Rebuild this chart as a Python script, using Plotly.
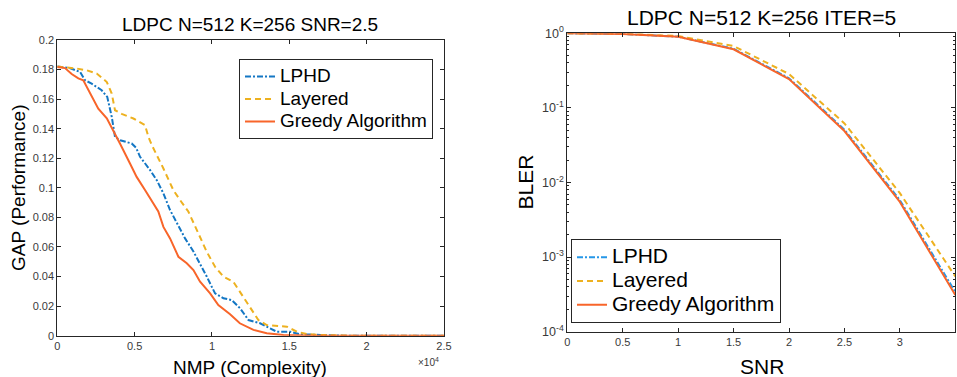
import plotly.graph_objects as go

# ---------------- data: left panel (GAP vs NMP) ----------------
lphd_nmp = [0, 800, 1470, 1790, 2220, 2870, 3230, 3520, 3730, 4060, 4810, 5100, 5350, 6000, 6430, 6860,
            7290, 7720, 8260, 8800, 9230, 9660, 10200, 10740, 11280, 11820, 12360, 13110, 13540, 14190,
            15050, 15700, 17000, 18500, 25000]
lphd_gap = [0.182, 0.181, 0.1784, 0.1728, 0.1705, 0.166, 0.1615, 0.148, 0.1345, 0.1322, 0.130, 0.127, 0.121,
            0.112, 0.1052, 0.0962, 0.085, 0.076, 0.0658, 0.057, 0.049, 0.040, 0.0286, 0.0253, 0.0241, 0.0185,
            0.0106, 0.0084, 0.0061, 0.0027, 0.0027, 0.001, 0.0005, 0.0, 0.0]

layered_nmp = [0, 1250, 1900, 2550, 3200, 3520, 3730, 4160, 4920, 5670, 5890, 6110, 6860, 7500, 7940, 8470,
               9120, 9660, 10200, 10740, 11380, 12030, 13000, 13540, 14840, 15490, 16130, 17000, 18600,
               19000, 25000]
layered_gap = [0.182, 0.1807, 0.1795, 0.1773, 0.1716, 0.1638, 0.1525, 0.150, 0.1469, 0.1424, 0.1345, 0.1289,
               0.1131, 0.0985, 0.0917, 0.084, 0.0692, 0.0568, 0.0466, 0.040, 0.0365, 0.0264, 0.0106, 0.0072,
               0.0061, 0.0027, 0.0011, 0.0005, 0.0003, 0.0, 0.0]

greedy_nmp = [0, 500, 930, 1360, 1680, 2115, 2650, 3200, 3840, 4050, 4700, 5130, 5670, 6210, 6530, 6860,
              7290, 7830, 8370, 8800, 9230, 9880, 10410, 11170, 11800, 12680, 13540, 14620, 16800, 25000]
greedy_gap = [0.1818, 0.181, 0.177, 0.174, 0.1727, 0.1638, 0.1536, 0.147, 0.1345, 0.130, 0.1165, 0.1074,
              0.0985, 0.0895, 0.084, 0.0736, 0.0658, 0.0534, 0.049, 0.0444, 0.0365, 0.0286, 0.0207, 0.0145,
              0.0084, 0.0039, 0.0016, 0.0005, 0.0, 0.0]

nmp_tickvals = [0, 5000, 10000, 15000, 20000, 25000]
nmp_ticktext = ["0", "0.5", "1", "1.5", "2", "2.5"]
gap_tickvals = [0, 0.02, 0.04, 0.06, 0.08, 0.1, 0.12, 0.14, 0.16, 0.18, 0.2]
gap_ticktext = ["0", "0.02", "0.04", "0.06", "0.08", "0.1", "0.12", "0.14", "0.16", "0.18", "0.2"]

# ---------------- data: right panel (BLER vs SNR) ----------------
snr = [0, 0.5, 1, 1.5, 2, 2.5, 3, 3.5]
bler_lphd = [1.0, 0.98, 0.90, 0.62, 0.25, 0.051, 0.0058, 0.00034]
bler_layered = [1.0, 0.985, 0.92, 0.675, 0.285, 0.062, 0.0072, 0.00055]
bler_greedy = [1.0, 0.98, 0.90, 0.61, 0.244, 0.049, 0.0055, 0.00031]

snr_tickvals = [0, 0.5, 1, 1.5, 2, 2.5, 3, 3.5]
snr_ticktext = ["0", "0.5", "1", "1.5", "2", "2.5", "3", "3.5"]
bler_tickvals = [1e-4, 1e-3, 1e-2, 1e-1, 1]
bler_ticktext = ["10<sup>-4</sup>", "10<sup>-3</sup>", "10<sup>-2</sup>", "10<sup>-1</sup>", "10<sup>0</sup>"]
bler_minor = [m * 10.0 ** e for e in (-4, -3, -2, -1) for m in range(2, 10)]

series_names = ["LPHD", "Layered", "Greedy Algorithm"]

# ---------------- styling ----------------
W, H = 957, 377
FONT = "Liberation Sans, Arial, Helvetica, sans-serif"
BLUE_L = "#1477C4"
BLUE_R = "#2597E8"
YELLOW = "#EDB120"
ORANGE = "#F8652A"
AX = "#262626"
TICKC = "#3a3a3a"


def px(x):
    return x / W


def py(y):
    return 1 - y / H


def lname(name, size):
    return '<span style="font-size:%dpx">%s</span>' % (size, name)


fig = go.Figure()

fig.add_trace(go.Scatter(x=lphd_nmp, y=lphd_gap, mode="lines", name=lname(series_names[0], 19),
                         line=dict(color=BLUE_L, width=2, dash="6px,2px,2px,2px"),
                         xaxis="x", yaxis="y", legend="legend"))
fig.add_trace(go.Scatter(x=layered_nmp, y=layered_gap, mode="lines", name=lname(series_names[1], 19),
                         line=dict(color=YELLOW, width=2, dash="6px,4px"),
                         xaxis="x", yaxis="y", legend="legend"))
fig.add_trace(go.Scatter(x=greedy_nmp, y=greedy_gap, mode="lines", name=lname(series_names[2], 19),
                         line=dict(color=ORANGE, width=2),
                         xaxis="x", yaxis="y", legend="legend"))

fig.add_trace(go.Scatter(x=snr, y=bler_lphd, mode="lines", name=lname(series_names[0], 21),
                         line=dict(color=BLUE_R, width=2, dash="6px,2px,2px,2px"),
                         xaxis="x2", yaxis="y2", legend="legend2"))
fig.add_trace(go.Scatter(x=snr, y=bler_layered, mode="lines", name=lname(series_names[1], 21),
                         line=dict(color=YELLOW, width=2, dash="6px,4px"),
                         xaxis="x2", yaxis="y2", legend="legend2"))
fig.add_trace(go.Scatter(x=snr, y=bler_greedy, mode="lines", name=lname(series_names[2], 21),
                         line=dict(color=ORANGE, width=2),
                         xaxis="x2", yaxis="y2", legend="legend2"))

axis_common = dict(showline=True, linecolor=AX, linewidth=1, mirror="ticks", ticks="inside",
                   ticklen=4, tickcolor=AX, showgrid=False, zeroline=False, automargin=False,
                   tickfont=dict(size=11, color=TICKC, family=FONT))

fig.update_layout(
    template="none",
    width=W, height=H, margin=dict(l=0, r=0, t=0, b=0, pad=0, autoexpand=False),
    paper_bgcolor="white", plot_bgcolor="white",
    font=dict(family=FONT, color="black"),
    xaxis=dict(domain=[px(57.3), px(444)], range=[0, 25000], tickmode="array",
               tickvals=nmp_tickvals, ticktext=nmp_ticktext, anchor="y", **axis_common),
    yaxis=dict(domain=[py(335.7), py(40)], range=[0, 0.2], tickmode="array",
               tickvals=gap_tickvals, ticktext=gap_ticktext, anchor="x", **axis_common),
    xaxis2=dict(domain=[px(567.3), px(955.3)], range=[0, 3.5], tickmode="array",
                tickvals=snr_tickvals, ticktext=snr_ticktext, anchor="y2", **axis_common),
    yaxis2=dict(domain=[py(331.7), py(33.3)], type="log", range=[-4, 0], tickmode="array",
                tickvals=bler_tickvals, ticktext=bler_ticktext, anchor="x2",
                minor=dict(ticks="inside", ticklen=2, tickcolor=AX, tickmode="array",
                           tickvals=bler_minor, showgrid=False),
                **{k: v for k, v in axis_common.items() if k != "tickfont"},
                tickfont=dict(size=12.5, color=TICKC, family=FONT)),
    legend=dict(x=px(239), y=py(59.3), xanchor="left", yanchor="top",
                bordercolor=AX, borderwidth=1, bgcolor="white",
                font=dict(size=15, family=FONT, color="black"), tracegroupgap=0,
                itemwidth=30),
    legend2=dict(x=px(571), y=py(239.3), xanchor="left", yanchor="top",
                 bordercolor=AX, borderwidth=1, bgcolor="white",
                 font=dict(size=16, family=FONT, color="black"), tracegroupgap=0,
                 itemwidth=30),
    showlegend=True,
)

annotations = [
    dict(text="LDPC N=512 K=256 SNR=2.5", x=px(250), y=py(25), font=dict(size=19)),
    dict(text="LDPC N=512 K=256 ITER=5", x=px(761), y=py(18), font=dict(size=21)),
    dict(text="NMP (Complexity)", x=px(250), y=py(367), font=dict(size=19)),
    dict(text="GAP (Performance)", x=px(19), y=py(188), font=dict(size=19), textangle=-90),
    dict(text="SNR", x=px(762), y=py(366), font=dict(size=21)),
    dict(text="BLER", x=px(525), y=py(182.5), font=dict(size=21), textangle=-90),
    dict(text="\u00d710<sup>4</sup>", x=px(428), y=py(362), font=dict(size=10, color=TICKC)),
]
for a in annotations:
    a.update(xref="paper", yref="paper", xanchor="center", yanchor="middle", showarrow=False)
    a["font"].setdefault("family", FONT)
    a["font"].setdefault("color", "black")
fig.update_layout(annotations=annotations)

fig.write_html("out.html", config={"displayModeBar": False},
               post_script="document.body.style.margin='0';document.body.style.padding='0';")
